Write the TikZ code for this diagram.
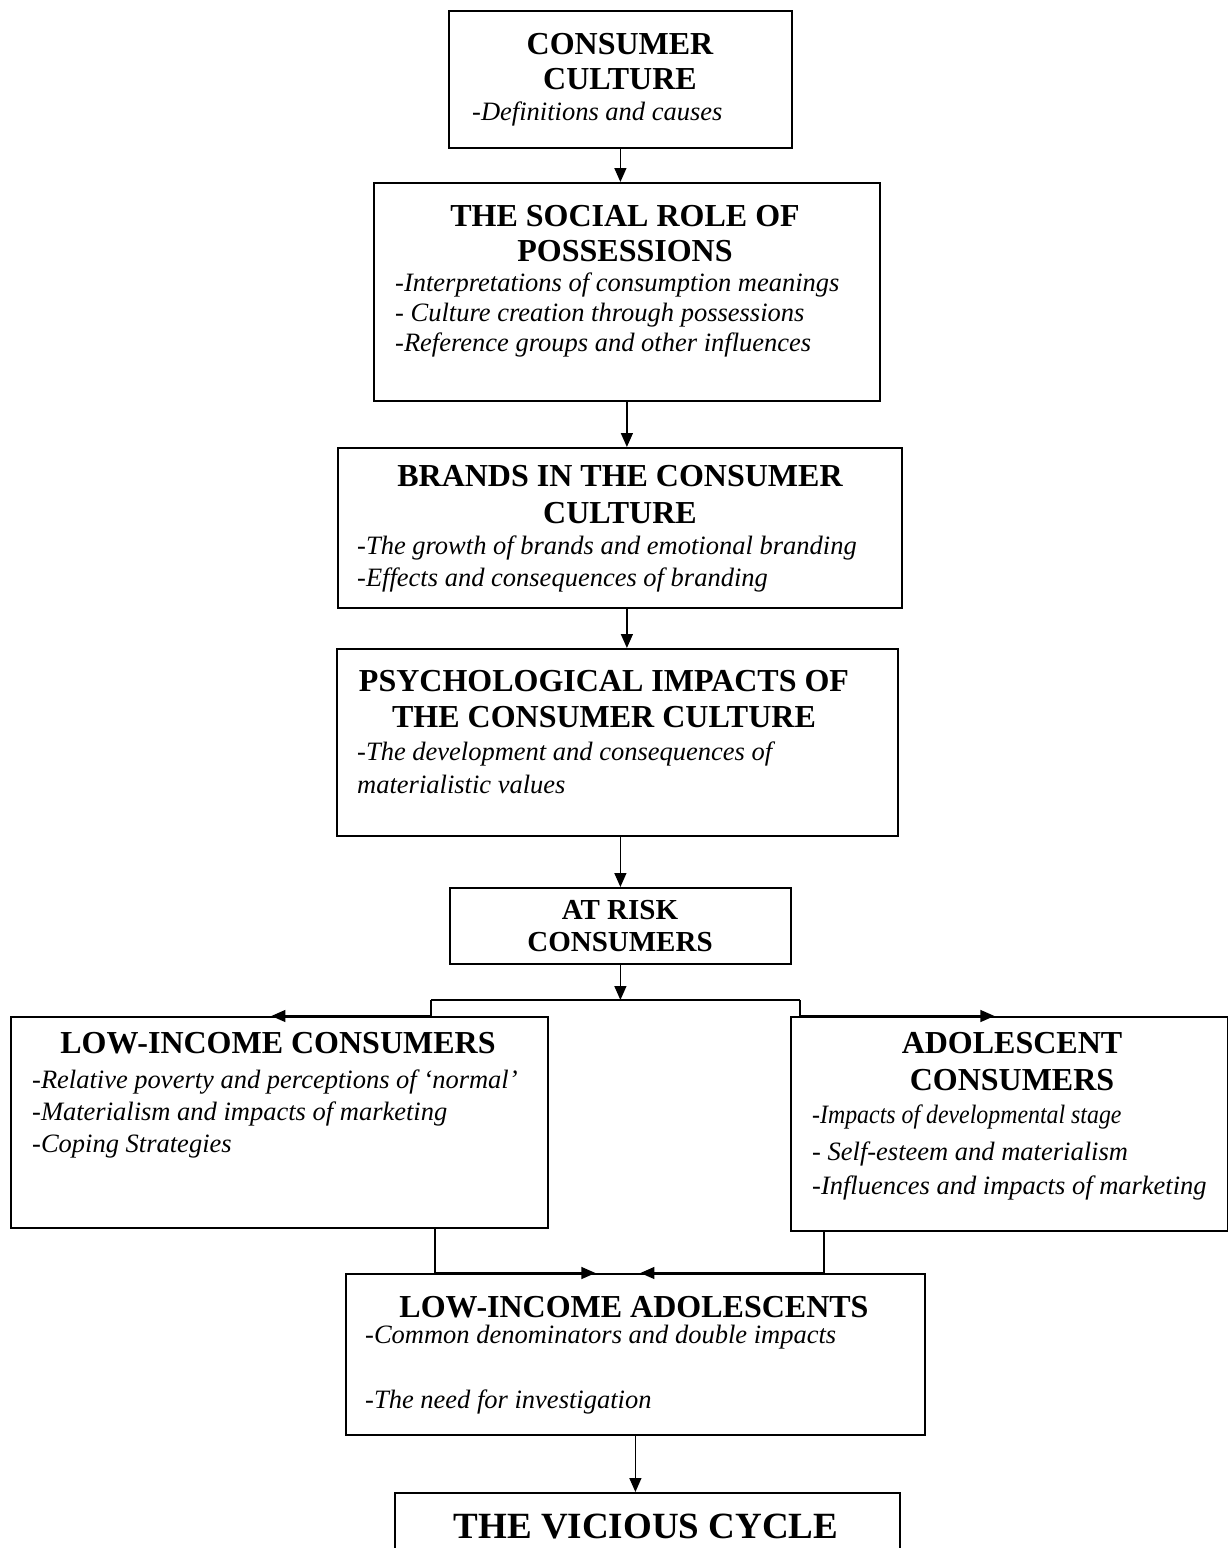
\documentclass[tikz,border=0pt]{standalone}
\usepackage{fontspec}
\usepackage{graphicx}
\setmainfont{Liberation Serif}
\usetikzlibrary{arrows.meta,calc}
\begin{document}
\begin{tikzpicture}[x=1pt,y=-1pt,
  box/.style={draw, line width=1.8pt, inner sep=0, anchor=north west},
  ttl/.style={font=\fontsize{32}{35}\selectfont\bfseries, anchor=base, inner sep=0},
  ttlsmall/.style={font=\fontsize{29}{31}\selectfont\bfseries, anchor=base, inner sep=0},
  ttlbig/.style={font=\fontsize{37}{40}\selectfont\bfseries, anchor=base, inner sep=0},
  itm/.style={font=\fontsize{26.5}{30}\selectfont\itshape, anchor=base west, inner sep=0},
  wire/.style={line width=1.4pt},
  arr/.style={line width=1.4pt, -{Triangle[length=14pt,width=12pt]}}]
\useasboundingbox (0,0) rectangle (1228,1548);
\fill[white] (0,0) rectangle (1228,1548);

% boxes
\node[box, minimum width=343, minimum height=137] (cc) at (448,10) {};
\node[box, minimum width=506, minimum height=218] (srp) at (373,182) {};
\node[box, minimum width=564, minimum height=160] (brands) at (337,447) {};
\node[box, minimum width=561, minimum height=187] (psych) at (336,648) {};
\node[box, minimum width=341, minimum height=76] (risk) at (449,887) {};
\node[box, minimum width=537, minimum height=211] (low) at (10,1016) {};
\node[box, minimum width=437, minimum height=214] (ado) at (790,1016) {};
\node[box, minimum width=579, minimum height=161] (lia) at (345,1273) {};
\node[box, minimum width=505, minimum height=90] (vc) at (394,1492) {};

% consumer culture
\node[ttl] (cc1) at (620,54) {CONSUMER};
\node[ttl] (cc2) at (620,89) {CULTURE};
\node[itm] (cci) at (472,120) {-Definitions and causes};

% social role of possessions
\node[ttl] (srp1) at (625,226) {THE SOCIAL ROLE OF};
\node[ttl] (srp2) at (625,261) {POSSESSIONS};
\node[itm] (srpa) at (395,291) {-Interpretations of consumption meanings};
\node[itm] (srpb) at (395,321) {- Culture creation through possessions};
\node[itm] (srpc) at (395,351) {-Reference groups and other influences};

% brands
\node[ttl] (br1) at (620,486) {BRANDS IN THE CONSUMER};
\node[ttl] (br2) at (620,523) {CULTURE};
\node[itm] (bra) at (357,554) {-The growth of brands and emotional branding};
\node[itm] (brb) at (357,586) {-Effects and consequences of branding};

% psychological impacts
\node[ttl] (ps1) at (604,691) {PSYCHOLOGICAL IMPACTS OF};
\node[ttl] (ps2) at (604,727) {THE CONSUMER CULTURE};
\node[itm] (psa) at (357,760) {-The development and consequences of};
\node[itm] (psb) at (357,793) {materialistic values};

% at risk
\node[ttlsmall] (rk1) at (620,919) {AT RISK};
\node[ttlsmall] (rk2) at (620,951) {CONSUMERS};

% low-income consumers
\node[ttl] (lo1) at (278,1053) {LOW-INCOME CONSUMERS};
\node[itm] (loa) at (32,1088) {-Relative poverty and perceptions of ‘normal’};
\node[itm] (lob) at (32,1120) {-Materialism and impacts of marketing};
\node[itm] (loc) at (32,1152) {-Coping Strategies};

% adolescent consumers
\node[ttl] (ad1) at (1012,1053) {ADOLESCENT};
\node[ttl] (ad2) at (1012,1090) {CONSUMERS};
\node[itm] (ada) at (812,1123) {\scalebox{0.9}[1]{-Impacts of developmental stage}};
\node[itm] (adb) at (812,1160) {- Self-esteem and materialism};
\node[itm] (adc) at (812,1194) {-Influences and impacts of marketing};

% low-income adolescents
\node[ttl] (li1) at (634,1317) {LOW-INCOME ADOLESCENTS};
\node[itm] (lia1) at (365,1343) {-Common denominators and double impacts};
\node[itm] (lia2) at (365,1408) {-The need for investigation};

% vicious cycle
\node[ttlbig] (vc1) at (646,1538) {THE VICIOUS CYCLE};

% junction points
\coordinate (split) at (621,1000);
\coordinate (jl) at (431,1000);
\coordinate (jr) at (800,1000);
\coordinate (ml) at (435,1227);
\coordinate (mr) at (824,1230);

% connectors
\draw[arr] (cc.south) -- (cc.south |- srp.north);
\draw[arr] (srp.south) -- (srp.south |- brands.north);
\draw[arr] (srp.south |- brands.south) -- (srp.south |- psych.north);
\draw[arr] (risk.north |- psych.south) -- (risk.north);
\draw[arr] (risk.south) -- (risk.south |- split);
\draw[wire] (jl) -- (jr);
\draw[arr] (jl) -- (jl |- low.north) -- ($(low.north)+(-8,0)$);
\draw[arr] (jr) -- (jr |- ado.north) -- ($(ado.north)+(-15,0)$);
\draw[arr] (ml) -- (ml |- lia.north) -- ($(lia.north)+(-40,0)$);
\draw[arr] (mr) -- (mr |- lia.north) -- ($(lia.north)+(5,0)$);
\draw[arr] (lia.south) -- (lia.south |- vc.north);
\end{tikzpicture}
\end{document}
